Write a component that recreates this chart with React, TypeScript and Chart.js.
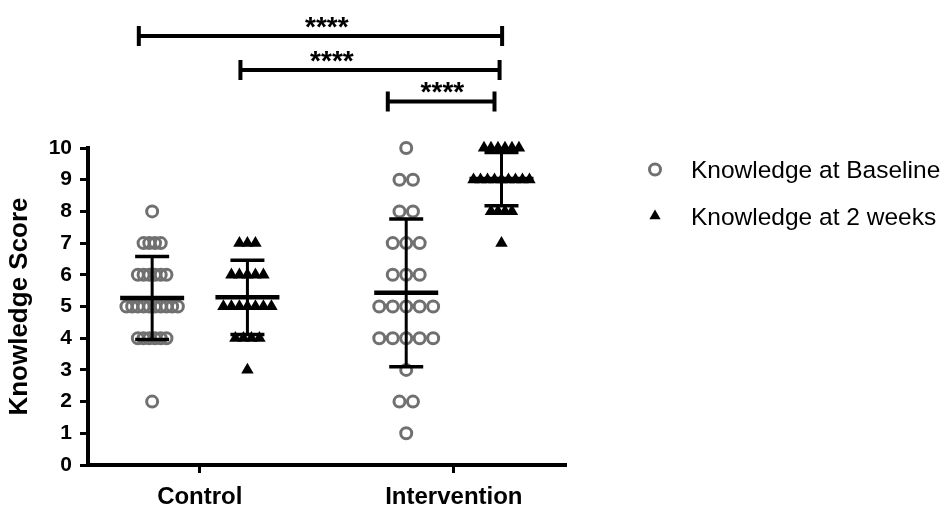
import React, { useEffect, useRef } from 'react';
import { Chart, registerables } from 'chart.js';

Chart.register(...registerables);

// ---- data ----
const groups = ['Control', 'Intervention'];
const groupCenters = [1, 3];
const seriesLabels = ['Knowledge at Baseline', 'Knowledge at 2 weeks'];

const controlBaseline = [8, 7, 7, 7, 7, 6, 6, 6, 6, 6, 6, 5, 5, 5, 5, 5, 5, 5, 5, 5, 5, 4, 4, 4, 4, 4, 4, 2];
const control2Weeks = [7, 7, 7, 6, 6, 6, 6, 6, 5, 5, 5, 5, 5, 5, 5, 4, 4, 4, 4, 3];
const interventionBaseline = [10, 9, 9, 8, 8, 7, 7, 7, 6, 6, 6, 5, 5, 5, 5, 5, 4, 4, 4, 4, 4, 3, 2, 2, 1];
const intervention2Weeks = [10, 10, 10, 10, 10, 10, 9, 9, 9, 9, 9, 9, 9, 9, 9, 8, 8, 8, 8, 7];

// order: control baseline, control 2 weeks, intervention baseline, intervention 2 weeks
const groupMeans = [5.27, 5.29, 5.43, 9.02];
const groupSDs = [1.31, 1.17, 2.33, 0.84];

const yTicks = [0, 1, 2, 3, 4, 5, 6, 7, 8, 9, 10];

const sigFrom = [0.52, 1.32, 2.48];
const sigTo = [3.38, 3.36, 3.32];
const sigLevel = [13.53, 12.46, 11.47];
const sigLabelX = [2.0, 2.04, 2.91];
const sigLabels = ['****', '****', '****'];

// ---- layout / style ----
const SERIES_OFFSET = 0.375;
const POINT_STEP = [0.045, 0.063, 0.106, 0.055];
const GRAY = 'rgb(112,112,112)';
const FONT = "'Liberation Sans', Arial, Helvetica, sans-serif";
const CIRCLE_R = 5.5;
const TRI_R = 7.2;

function spread(values: number[], center: number, step: number) {
  const counts = new Map<number, number>();
  values.forEach((v) => counts.set(v, (counts.get(v) || 0) + 1));
  const seen = new Map<number, number>();
  return values.map((v) => {
    const n = counts.get(v) as number;
    const i = seen.get(v) || 0;
    seen.set(v, i + 1);
    return { x: center + (i - (n - 1) / 2) * step, y: v };
  });
}

const subCenters = [
  groupCenters[0] - SERIES_OFFSET,
  groupCenters[0] + SERIES_OFFSET,
  groupCenters[1] - SERIES_OFFSET,
  groupCenters[1] + SERIES_OFFSET,
];

const errorBarPlugin = {
  id: 'errorBars',
  afterDatasetsDraw(chart: any) {
    const { ctx, scales } = chart;
    const xs = scales.x;
    const ys = scales.y;
    ctx.save();
    ctx.strokeStyle = '#000';
    ctx.lineCap = 'butt';
    subCenters.forEach((c, i) => {
      const px = xs.getPixelForValue(c);
      const m = ys.getPixelForValue(groupMeans[i]);
      const hi = ys.getPixelForValue(groupMeans[i] + groupSDs[i]);
      const lo = ys.getPixelForValue(groupMeans[i] - groupSDs[i]);
      ctx.lineWidth = 3;
      ctx.beginPath();
      ctx.moveTo(px, hi);
      ctx.lineTo(px, lo);
      ctx.stroke();
      ctx.lineWidth = 3.5;
      ctx.beginPath();
      ctx.moveTo(px - 17, hi);
      ctx.lineTo(px + 17, hi);
      ctx.moveTo(px - 17, lo);
      ctx.lineTo(px + 17, lo);
      ctx.stroke();
      ctx.lineWidth = 4.5;
      ctx.beginPath();
      ctx.moveTo(px - 32, m);
      ctx.lineTo(px + 32, m);
      ctx.stroke();
    });
    ctx.restore();
  },
};

const annotationPlugin = {
  id: 'sigAndLegend',
  afterDraw(chart: any) {
    const { ctx, scales } = chart;
    const xs = scales.x;
    const ys = scales.y;
    ctx.save();
    ctx.strokeStyle = '#000';
    ctx.fillStyle = '#000';
    ctx.lineWidth = 4;
    sigLevel.forEach((lvl, i) => {
      const x1 = xs.getPixelForValue(sigFrom[i]);
      const x2 = xs.getPixelForValue(sigTo[i]);
      const y = ys.getPixelForValue(lvl);
      ctx.beginPath();
      ctx.moveTo(x1, y);
      ctx.lineTo(x2, y);
      ctx.moveTo(x1, y - 10);
      ctx.lineTo(x1, y + 10);
      ctx.moveTo(x2, y - 10);
      ctx.lineTo(x2, y + 10);
      ctx.stroke();
      ctx.font = `bold 28px ${FONT}`;
      ctx.textAlign = 'center';
      ctx.textBaseline = 'alphabetic';
      const mt = ctx.measureText(sigLabels[i]);
      const center = y - 14;
      const base = center + (mt.actualBoundingBoxAscent - mt.actualBoundingBoxDescent) / 2;
      ctx.fillText(sigLabels[i], xs.getPixelForValue(sigLabelX[i]), base);
    });

    // legend
    const lx = 655;
    const ly = [169.5, 216];
    ctx.strokeStyle = GRAY;
    ctx.lineWidth = 3;
    ctx.beginPath();
    ctx.arc(lx, ly[0], CIRCLE_R, 0, Math.PI * 2);
    ctx.stroke();
    ctx.fillStyle = '#000';
    const r = 6.5;
    ctx.beginPath();
    ctx.moveTo(lx, ly[1] - r);
    ctx.lineTo(lx + r * 0.866, ly[1] + r / 2);
    ctx.lineTo(lx - r * 0.866, ly[1] + r / 2);
    ctx.closePath();
    ctx.fill();
    ctx.font = `24.5px ${FONT}`;
    ctx.textAlign = 'left';
    ctx.textBaseline = 'alphabetic';
    seriesLabels.forEach((t, i) => {
      ctx.fillText(t, 691, ly[i] + 0.358 * 24.5);
    });
    ctx.restore();
  },
};

export default function App() {
  const ref = useRef<HTMLCanvasElement | null>(null);
  useEffect(() => {
    if (!ref.current) return;
    Chart.defaults.font.family = FONT;
    const chart = new Chart(ref.current, {
      type: 'scatter',
      data: {
        datasets: [
          {
            label: seriesLabels[0],
            data: [
              ...spread(controlBaseline, subCenters[0], POINT_STEP[0]),
              ...spread(interventionBaseline, subCenters[2], POINT_STEP[2]),
            ],
            clip: false,
            pointStyle: 'circle',
            pointRadius: CIRCLE_R,
            pointHoverRadius: CIRCLE_R,
            borderWidth: 3,
            borderColor: GRAY,
            backgroundColor: 'rgba(0,0,0,0)',
          },
          {
            label: seriesLabels[1],
            data: [
              ...spread(control2Weeks, subCenters[1], POINT_STEP[1]),
              ...spread(intervention2Weeks, subCenters[3], POINT_STEP[3]),
            ],
            clip: false,
            pointStyle: 'triangle',
            pointRadius: TRI_R,
            pointHoverRadius: TRI_R,
            borderWidth: 0,
            borderColor: '#000',
            backgroundColor: '#000',
          },
        ],
      },
      options: {
        animation: false,
        responsive: false,
        devicePixelRatio: 1,
        layout: { padding: { top: 148, right: 384, bottom: 0, left: 0 } },
        plugins: { legend: { display: false }, tooltip: { enabled: false } },
        events: [],
        scales: {
          x: {
            type: 'linear',
            min: 0.12,
            max: 3.875,
            afterBuildTicks: (s: any) => {
              s.ticks = groupCenters.map((v) => ({ value: v }));
            },
            afterFit: (s: any) => {
              s.height = 42;
            },
            ticks: {
              autoSkip: false,
              maxRotation: 0,
              padding: 10,
              color: '#000',
              font: { size: 24, weight: 'bold' },
              callback: (v: any) => groups[groupCenters.indexOf(Number(v))] ?? '',
            },
            grid: { display: true, drawOnChartArea: false, drawTicks: true, tickLength: 8, color: '#000', lineWidth: 3 },
            border: { display: true, color: '#000', width: 4 },
          },
          y: {
            type: 'linear',
            min: 0,
            max: 10,
            afterBuildTicks: (s: any) => {
              s.ticks = yTicks.map((v) => ({ value: v }));
            },
            afterFit: (s: any) => {
              s.width = 88;
            },
            ticks: {
              padding: 8,
              color: '#000',
              font: { size: 21, weight: 'bold' },
              callback: (v: any) => String(v),
            },
            grid: { display: true, drawOnChartArea: false, drawTicks: true, tickLength: 8, color: '#000', lineWidth: 3 },
            border: { display: true, color: '#000', width: 4 },
            title: {
              display: true,
              text: 'Knowledge Score',
              color: '#000',
              font: { size: 26, weight: 'bold' },
              padding: { top: 4, bottom: 0 },
            },
          },
        },
      },
      plugins: [errorBarPlugin, annotationPlugin],
    } as any);
    return () => chart.destroy();
  }, []);
  return (
    <div style={{ position: 'fixed', left: 0, top: 0, width: 949, height: 507 }}>
      <canvas ref={ref} width={949} height={507} style={{ display: 'block', width: 949, height: 507 }} />
    </div>
  );
}
